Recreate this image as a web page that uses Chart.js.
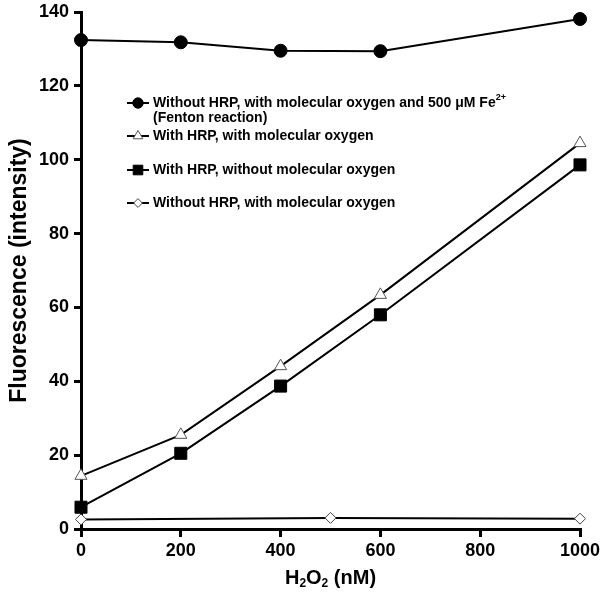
<!DOCTYPE html>
<html>
<head>
<meta charset="utf-8">
<script src="https://cdn.jsdelivr.net/npm/chart.js@4.4.0/dist/chart.umd.min.js"></script>
<style>
  body { margin: 0; background: #fff; }
  #wrap { width: 600px; height: 599px; }
</style>
</head>
<body>
<div id="wrap"><canvas id="fluo-chart" width="600" height="599"></canvas></div>
<script>
// H2O2 doses (nM)
var doses = [0, 200, 400, 600, 1000];
var dosesNoHrp = [0, 500, 1000];

// fluorescence readings
var fentonVals = [132.4, 131.8, 129.5, 129.4, 138.1];
var hrpO2Vals = [14.4, 25.5, 44.1, 63.4, 104.5];
var hrpNoO2Vals = [5.9, 20.5, 38.7, 58.0, 98.6];
var noHrpVals = [2.6, 3.0, 2.8];

var FONT = "'Liberation Sans', Arial, Helvetica, sans-serif";

function pts(xs, ys) {
    var out = [];
    for (var i = 0; i < xs.length; i++) out.push({x: xs[i], y: ys[i]});
    return out;
}

var data = [{
    label: "fenton",
    data: pts(doses, fentonVals),
    pointStyle: "circle",
    pointRadius: 6.5,
    backgroundColor: "#000",
    pointBorderColor: "#000",
    borderColor: "#000",
    borderWidth: 2,
    pointBorderWidth: 1,
    clip: false
}, {
    label: "hrp o2",
    data: pts(doses, hrpO2Vals),
    pointStyle: "triangle",
    pointRadius: 7,
    backgroundColor: "#fff",
    pointBorderColor: "#555",
    borderColor: "#000",
    borderWidth: 2,
    pointBorderWidth: 1,
    clip: false
}, {
    label: "hrp no o2",
    data: pts(doses, hrpNoO2Vals),
    pointStyle: "rect",
    pointRadius: 8.5,
    backgroundColor: "#000",
    pointBorderColor: "#000",
    borderColor: "#000",
    borderWidth: 2,
    pointBorderWidth: 1,
    clip: false
}, {
    label: "no hrp",
    data: pts(dosesNoHrp, noHrpVals),
    pointStyle: "rectRot",
    pointRadius: 5.5,
    backgroundColor: "#fff",
    pointBorderColor: "#444",
    borderColor: "#000",
    borderWidth: 2,
    pointBorderWidth: 1,
    clip: false
}];

// legend rows: text runs (sub/sup aware) + which dataset style
var legendRows = [
    {ds: 0, dy: 91, runs: [{t: "Without HRP, with molecular oxygen and 500 \u03bcM Fe"}, {t: "2+", sup: true}]},
    {ds: -1, dy: 106, runs: [{t: "(Fenton reaction)"}]},
    {ds: 1, dy: 124, runs: [{t: "With HRP, with molecular oxygen"}]},
    {ds: 2, dy: 158, runs: [{t: "With HRP, without molecular oxygen"}]},
    {ds: 3, dy: 191, runs: [{t: "Without HRP, with molecular oxygen"}]}
];

function drawRuns(ctx, runs, x, y, size, align) {
    var total = 0, i, r;
    for (i = 0; i < runs.length; i++) {
        r = runs[i];
        ctx.font = "bold " + ((r.sub || r.sup) ? Math.round(size * 0.62) : size) + "px " + FONT;
        r.w = ctx.measureText(r.t).width;
        total += r.w;
    }
    var cx = align === "center" ? x - total / 2 : x;
    ctx.textAlign = "left";
    ctx.textBaseline = "middle";
    for (i = 0; i < runs.length; i++) {
        r = runs[i];
        var sz = (r.sub || r.sup) ? Math.round(size * 0.62) : size;
        ctx.font = "bold " + sz + "px " + FONT;
        var oy = r.sub ? size * 0.3 : (r.sup ? -size * 0.38 : 0);
        ctx.fillText(r.t, cx, y + oy);
        cx += r.w;
    }
}

var extras = {
    id: "extras",
    afterDraw: function(chart) {
        var ctx = chart.ctx;
        var area = chart.chartArea;
        ctx.save();
        ctx.fillStyle = "#000";

        // x axis title with subscripts
        drawRuns(ctx, [{t: "H"}, {t: "2", sub: true}, {t: "O"}, {t: "2", sub: true}, {t: " (nM)"}],
            (area.left + area.right) / 2, 578, 20, "center");

        // legend inside the plot
        var lx = area.left + 46;
        legendRows.forEach(function(row) {
            var y = row.dy + area.top;
            if (row.ds >= 0) {
                var d = data[row.ds];
                ctx.strokeStyle = "#000";
                ctx.lineWidth = 2;
                ctx.beginPath();
                ctx.moveTo(lx, y);
                ctx.lineTo(lx + 22, y);
                ctx.stroke();
                ctx.fillStyle = d.backgroundColor;
                ctx.strokeStyle = d.pointBorderColor;
                ctx.lineWidth = 1;
                Chart.helpers.drawPoint(ctx, {
                    pointStyle: d.pointStyle,
                    radius: d.pointRadius * 0.8,
                    rotation: 0,
                    borderWidth: 1
                }, lx + 11, y);
            }
            ctx.fillStyle = "#000";
            drawRuns(ctx, row.runs, lx + 26, y, 14, "left");
        });
        ctx.restore();
    }
};

var ctx = document.getElementById("fluo-chart").getContext("2d");
var myChart = new Chart(ctx, {
    type: "line",
    data: {datasets: data},
    options: {
        responsive: false,
        animation: false,
        layout: {padding: {top: 12, right: 20, left: 0, bottom: 0}},
        elements: {line: {tension: 0}},
        plugins: {
            legend: {display: false},
            tooltip: {enabled: false}
        },
        scales: {
            x: {
                type: "linear",
                min: 0,
                max: 1000,
                afterFit: function(s) {
                    s.height = 70;
                    s.paddingLeft = 0;
                    s.paddingRight = 0;
                },
                ticks: {
                    stepSize: 200,
                    color: "#000",
                    padding: 3,
                    maxRotation: 0,
                    callback: function(v) { return String(v); },
                    font: {family: FONT, size: 18, weight: "bold"}
                },
                grid: {
                    drawOnChartArea: false,
                    drawTicks: true,
                    tickLength: 8,
                    color: "#000",
                    lineWidth: 3
                },
                border: {color: "#000", width: 3}
            },
            y: {
                min: 0,
                max: 140,
                afterFit: function(s) {
                    s.width = 81;
                    s.paddingTop = 0;
                    s.paddingBottom = 0;
                },
                ticks: {
                    stepSize: 20,
                    color: "#000",
                    padding: 5,
                    font: {family: FONT, size: 18, weight: "bold"}
                },
                grid: {
                    drawOnChartArea: false,
                    drawTicks: true,
                    tickLength: 7,
                    color: "#000",
                    lineWidth: 3
                },
                border: {color: "#000", width: 3},
                title: {
                    display: true,
                    text: "Fluorescence (intensity)",
                    color: "#000",
                    padding: {top: 6, bottom: 0},
                    font: {family: FONT, size: 23, weight: "bold"}
                }
            }
        }
    },
    plugins: [extras]
});
</script>
</body>
</html>
